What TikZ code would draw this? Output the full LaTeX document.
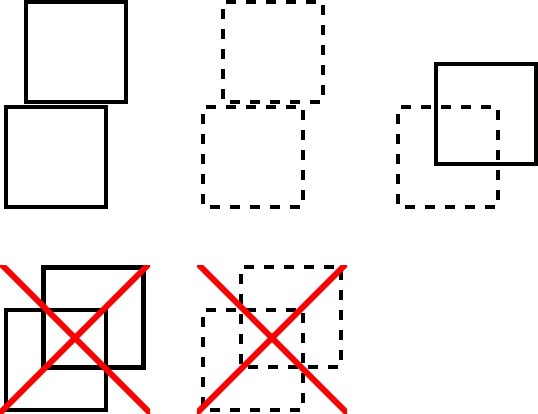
\documentclass[tikz,border=0pt]{standalone}
\begin{document}
\begin{tikzpicture}[x=1pt,y=-1pt]

  % Define styles
  \tikzstyle{box} = [rectangle, draw, line width=4.6pt, minimum size=100pt, inner sep=0pt]
  \tikzstyle{dashed_box} = [box, dash pattern=on 10pt off 10pt, dash phase=13pt]
  \tikzstyle{cross} = [draw, red, line width=6pt]

  \useasboundingbox (0,0) rectangle (538,414);

  % Solid pair
  \node[box] (s1) at (76,52) {};
  \node[box] (s2) at (56,157) {};

  % Dashed pair
  \node[dashed_box] (d1) at (273,52) {};
  \node[dashed_box] (d2) at (253,157) {};

  % Mixed pair
  \node[box] (m1) at (486,114) {};
  \node[dashed_box] (m2) at (448,157) {};

  % Crossed solid pair
  \node[box] (cs1) at (93.5,317.5) {};
  \node[box] (cs2) at (56,360) {};

  \begin{scope}
    \clip (0,265) rectangle (150,414);
    \draw[cross] (-10,253) -- (160,423);
    \draw[cross] (-10,423) -- (160,253);
  \end{scope}

  % Crossed dashed pair
  \node[dashed_box] (cd1) at (291,317) {};
  \node[dashed_box] (cd2) at (253,360) {};

  \begin{scope}
    \clip (197,265) rectangle (347,414);
    \draw[cross] (187,253) -- (357,423);
    \draw[cross] (187,423) -- (357,253);
  \end{scope}

\end{tikzpicture}
\end{document}
